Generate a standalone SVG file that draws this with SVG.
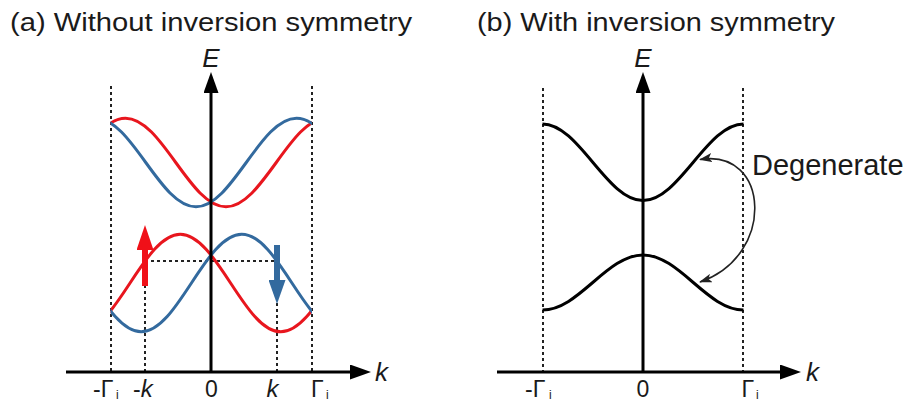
<svg xmlns="http://www.w3.org/2000/svg" width="906" height="403" viewBox="0 0 906 403">
<style>
text { font-family: "Liberation Sans", Arial, sans-serif; fill: #1a1a1a; }
.title { font-size: 26px; }
.lbl { font-size: 23px; }
.sub { font-size: 12px; }
.it { font-style: italic; }
.axis { stroke: #000; stroke-width: 3; fill: none; }
.dash { stroke: #222; stroke-width: 2; stroke-dasharray: 3 3; fill: none; }
.band { stroke-width: 3; fill: none; }
.red { stroke: #e8161e; }
.blue { stroke: #336a9e; }
.black { stroke: #000; }
.deg { stroke: #222; stroke-width: 1.6; fill: none; }
</style>
<defs>
<marker id="axHead" viewBox="0 0 21 15" refX="0" refY="7.5" markerWidth="21" markerHeight="15" markerUnits="userSpaceOnUse" orient="auto">
<path d="M0,0 L21,7.5 L0,15 z" fill="#000"/>
</marker>
<marker id="redHead" viewBox="0 0 25 17" refX="0" refY="8.5" markerWidth="25" markerHeight="17" markerUnits="userSpaceOnUse" orient="auto">
<path d="M0,0 L25,8.5 L0,17 z" fill="#f01018"/>
</marker>
<marker id="blueHead" viewBox="0 0 24 17" refX="0" refY="8.5" markerWidth="24" markerHeight="17" markerUnits="userSpaceOnUse" orient="auto">
<path d="M0,0 L24,8.5 L0,17 z" fill="#336a9e"/>
</marker>
<marker id="degHead" viewBox="0 0 13 9" refX="12" refY="4.5" markerWidth="13" markerHeight="9" markerUnits="userSpaceOnUse" orient="auto-start-reverse">
<path d="M0,0 L13,4.5 L0,9 L3,4.5 z" fill="#222"/>
</marker>
<clipPath id="clipA"><rect x="110.5" y="0" width="201.5" height="403"/></clipPath>
</defs>

<g id="titles">
<text id="title-a" class="title" x="10" y="31" textLength="402" lengthAdjust="spacingAndGlyphs">(a) Without inversion symmetry</text>
<text id="title-b" class="title" x="477" y="31" textLength="358" lengthAdjust="spacingAndGlyphs">(b) With inversion symmetry</text>
</g>

<g id="guides">
<line class="dash" x1="111" y1="86" x2="111" y2="372"/>
<line class="dash" x1="312" y1="86" x2="312" y2="372"/>
<line class="dash" x1="145" y1="261" x2="145" y2="372"/>
<line class="dash" x1="277" y1="261" x2="277" y2="372"/>
<line class="dash" x1="145" y1="261" x2="277" y2="261"/>
<line class="dash" x1="543" y1="88" x2="543" y2="372"/>
<line class="dash" x1="743" y1="88" x2="743" y2="372"/>
</g>

<g id="bands-a" clip-path="url(#clipA)">
<path id="upper-red" class="band red" d="M25,206.77 C61.52,206.77 88.98,118.23 125.5,118.23 C162.02,118.23 189.48,206.77 226,206.77 C262.52,206.77 289.98,118.23 326.5,118.23"/>
<path id="upper-blue" class="band blue" d="M95.5,118.23 C132.02,118.23 159.48,206.77 196,206.77 C232.52,206.77 259.98,118.23 296.5,118.23 C333.02,118.23 360.48,206.77 397,206.77"/>
<path id="lower-red" class="band red" d="M79.8,331.83 C116.32,331.83 143.78,234.17 180.3,234.17 C216.82,234.17 244.28,331.83 280.8,331.83 C317.32,331.83 344.78,234.17 381.3,234.17"/>
<path id="lower-blue" class="band blue" d="M40.7,234.17 C77.22,234.17 104.68,331.83 141.2,331.83 C177.72,331.83 205.18,234.17 241.7,234.17 C278.22,234.17 305.68,331.83 342.2,331.83"/>
</g>

<g id="spins">
<line id="spin-up" x1="145" y1="286" x2="145" y2="250" stroke="#f01018" stroke-width="6" marker-end="url(#redHead)"/>
<line id="spin-down" x1="277" y1="245" x2="277" y2="280" stroke="#336a9e" stroke-width="6" marker-end="url(#blueHead)"/>
</g>

<g id="bands-b">
<path id="upper-b" class="band black" d="M542.5,124 C579.02,124 606.48,200.6 643,200.6 C679.52,200.6 706.98,124 743.5,124"/>
<path id="lower-b" class="band black" d="M542.5,310 C579.02,310 606.48,255 643,255 C679.52,255 706.98,310 743.5,310"/>
</g>

<g id="connectors">
<line class="axis" x1="211" y1="372" x2="211" y2="93" marker-end="url(#axHead)"/>
<line class="axis" x1="66" y1="372" x2="350" y2="372" marker-end="url(#axHead)"/>
<line class="axis" x1="643" y1="372" x2="643" y2="93" marker-end="url(#axHead)"/>
<line class="axis" x1="497" y1="372" x2="780" y2="372" marker-end="url(#axHead)"/>
<path id="degenerate-arrow" class="deg" d="M700,159.5 C770,148 776,256 700,282" marker-start="url(#degHead)" marker-end="url(#degHead)"/>
</g>

<g id="labels-a">
<text class="lbl it" x="211" y="67" text-anchor="middle" style="font-size:26px">E</text>
<text class="lbl it" x="375" y="381" style="font-size:26px">k</text>
<text class="lbl" x="93" y="397">-Γ</text><text class="sub" x="116" y="399">i</text>
<text class="lbl" x="133" y="397">-<tspan class="it" style="font-size:24px">k</tspan></text>
<text class="lbl" x="211.5" y="397" text-anchor="middle">0</text>
<text class="lbl it" x="272.5" y="397" text-anchor="middle" style="font-size:24px">k</text>
<text class="lbl" x="311" y="397">Γ</text><text class="sub" x="326" y="399">i</text>
</g>

<g id="labels-b">
<text class="lbl it" x="643" y="67" text-anchor="middle" style="font-size:26px">E</text>
<text class="lbl it" x="806" y="381" style="font-size:26px">k</text>
<text class="lbl" x="525" y="397">-Γ</text><text class="sub" x="549" y="399">i</text>
<text class="lbl" x="643" y="397" text-anchor="middle">0</text>
<text class="lbl" x="741.5" y="397">Γ</text><text class="sub" x="756" y="399">i</text>
<text id="degenerate" x="752" y="175" style="font-size:29px">Degenerate</text>
</g>
</svg>
